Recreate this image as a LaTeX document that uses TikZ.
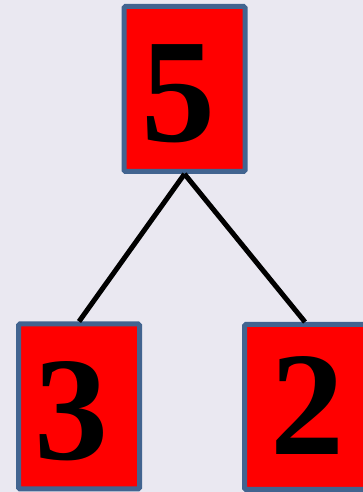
\documentclass[tikz,border=0pt]{standalone}
\usepackage{fontspec}
\setmainfont{Liberation Serif}
\usepackage{xcolor}
\usepackage{tikz}
\definecolor{bgcol}{RGB}{234,232,241}
\definecolor{framecol}{RGB}{66,100,144}
% move a digit inside its box without changing the box size
\newcommand{\nudge}[3]{\raisebox{#2}[\height][\depth]{\kern#1#3\kern-#1}}

\begin{document}
\begin{tikzpicture}[x=1pt,y=1pt,
  numbox/.style={draw=framecol,fill=red,line width=5pt,rounded corners=1.5pt,
    minimum width=121pt,minimum height=165pt,inner sep=0pt,
    font=\fontsize{148}{148}\selectfont\bfseries},
  branch/.style={line width=5pt,black}]
  \fill[bgcol] (0,0) rectangle (363,492);
  \useasboundingbox (0,0) rectangle (363,492);
  \node[numbox] (five) at (184.5,403) {\nudge{-6pt}{-5pt}{5}};
  \node[numbox] (three) at (79,85.5) {\nudge{-8pt}{-5pt}{3}};
  \node[numbox] (two) at (305,85) {\nudge{2pt}{1pt}{2}};
  \draw[branch] (five.south) -- (three.north);
  \draw[branch] (five.south) -- (two.north);
\end{tikzpicture}
\end{document}
